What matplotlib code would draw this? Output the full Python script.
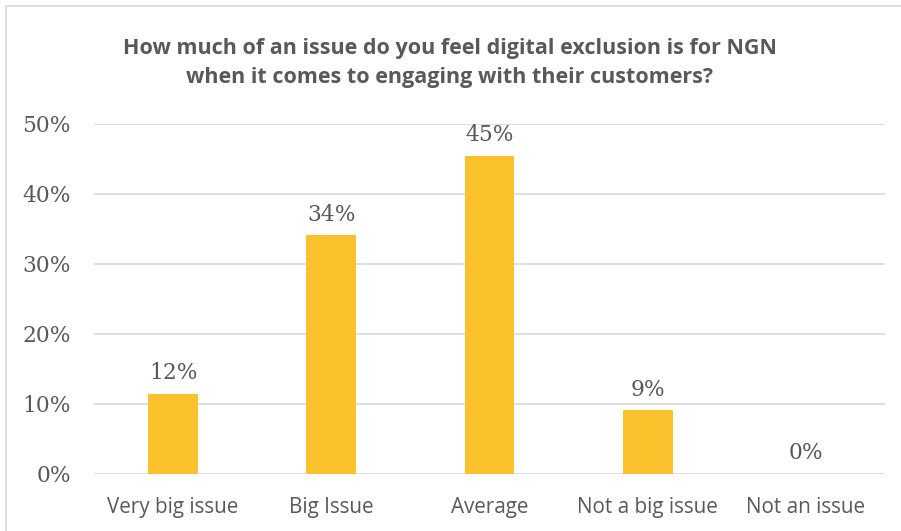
import matplotlib
matplotlib.use("Agg")
import matplotlib.pyplot as plt
from matplotlib.patches import Rectangle

categories = ["Very big issue", "Big Issue", "Average", "Not a big issue", "Not an issue"]
values = [0.115, 0.341, 0.454, 0.091, 0.0]
value_labels = ["12%", "34%", "45%", "9%", "0%"]
yticks = [0, 0.1, 0.2, 0.3, 0.4, 0.5]
ytick_labels = ["0%", "10%", "20%", "30%", "40%", "50%"]
title = "How much of an issue do you feel digital exclusion is for NGN\nwhen it comes to engaging with their customers?"

W, H = 901, 531
fig = plt.figure(figsize=(W / 100, H / 100), dpi=100)
fig.patch.set_facecolor("white")

# chart border
fig.patches.append(Rectangle((6 / W, -0.1), 1.2, (H - 6) / H + 0.1, transform=fig.transFigure,
                             fill=False, edgecolor="#D9D9D9", linewidth=1.2))

ax = fig.add_axes([94 / W, 57 / H, (885 - 94) / W, (474 - 124) / H])
text_col = "#595959"
x = list(range(len(categories)))
ax.bar(x, values, width=0.316, color="#FBC22E", zorder=3)
ax.set_xlim(-0.5, len(categories) - 0.5)
ax.set_ylim(0, 0.5)
ax.set_yticks(yticks)
ax.set_yticklabels(ytick_labels, fontfamily="DejaVu Serif", fontsize=15.7, color=text_col)
ax.set_xticks(x)
ax.set_xticklabels(categories, fontfamily="Open Sans", fontsize=14.9, color=text_col)
ax.tick_params(axis="y", length=0, pad=16.5)
ax.tick_params(axis="x", length=0, pad=16.5)
ax.grid(axis="y", color="#D9D9D9", linewidth=1.2, zorder=0)
for s in ax.spines.values():
    s.set_visible(False)

for xi, v, lab in zip(x, values, value_labels):
    ax.annotate(lab, (xi, v), xytext=(0, 7), textcoords="offset points",
                ha="center", va="bottom", fontfamily="DejaVu Serif", fontsize=15.7, color=text_col)

fig.text(450 / W, 1 - 63 / H, title, ha="center", va="center", fontfamily="Open Sans",
         fontweight="bold", fontsize=15.5, color=text_col, linespacing=1.55)

fig.savefig("out.png", dpi=100, facecolor="white")
